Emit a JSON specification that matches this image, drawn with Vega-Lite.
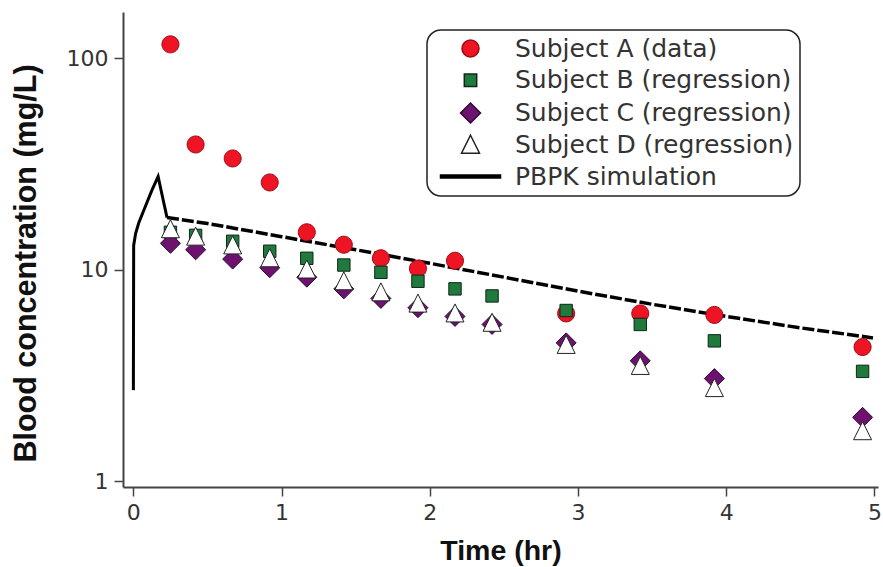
{
  "$schema": "https://vega.github.io/schema/vega-lite/v6.json",
  "width": 755,
  "height": 475,
  "autosize": "none",
  "padding": {"left": 123, "top": 12, "right": 5, "bottom": 80},
  "background": "white",
  "datasets": {
    "points": [
      {"series": "Subject A (data)", "t": 0.25, "c": 116},
      {"series": "Subject A (data)", "t": 0.42, "c": 39},
      {"series": "Subject A (data)", "t": 0.67, "c": 33.5},
      {"series": "Subject A (data)", "t": 0.92, "c": 25.8},
      {"series": "Subject A (data)", "t": 1.17, "c": 15.0},
      {"series": "Subject A (data)", "t": 1.42, "c": 13.1},
      {"series": "Subject A (data)", "t": 1.67, "c": 11.3},
      {"series": "Subject A (data)", "t": 1.92, "c": 10.1},
      {"series": "Subject A (data)", "t": 2.17, "c": 11.0},
      {"series": "Subject A (data)", "t": 2.92, "c": 6.2},
      {"series": "Subject A (data)", "t": 3.42, "c": 6.2},
      {"series": "Subject A (data)", "t": 3.92, "c": 6.1},
      {"series": "Subject A (data)", "t": 4.92, "c": 4.3},
      {"series": "Subject B (regression)", "t": 0.25, "c": 15.0},
      {"series": "Subject B (regression)", "t": 0.42, "c": 14.5},
      {"series": "Subject B (regression)", "t": 0.67, "c": 13.6},
      {"series": "Subject B (regression)", "t": 0.92, "c": 12.2},
      {"series": "Subject B (regression)", "t": 1.17, "c": 11.3},
      {"series": "Subject B (regression)", "t": 1.42, "c": 10.5},
      {"series": "Subject B (regression)", "t": 1.67, "c": 9.7},
      {"series": "Subject B (regression)", "t": 1.92, "c": 8.8},
      {"series": "Subject B (regression)", "t": 2.17, "c": 8.1},
      {"series": "Subject B (regression)", "t": 2.42, "c": 7.5},
      {"series": "Subject B (regression)", "t": 2.92, "c": 6.4},
      {"series": "Subject B (regression)", "t": 3.42, "c": 5.5},
      {"series": "Subject B (regression)", "t": 3.92, "c": 4.6},
      {"series": "Subject B (regression)", "t": 4.92, "c": 3.3},
      {"series": "Subject C (regression)", "t": 0.25, "c": 13.3},
      {"series": "Subject C (regression)", "t": 0.42, "c": 12.4},
      {"series": "Subject C (regression)", "t": 0.67, "c": 11.2},
      {"series": "Subject C (regression)", "t": 0.92, "c": 10.2},
      {"series": "Subject C (regression)", "t": 1.17, "c": 9.2},
      {"series": "Subject C (regression)", "t": 1.42, "c": 8.1},
      {"series": "Subject C (regression)", "t": 1.67, "c": 7.3},
      {"series": "Subject C (regression)", "t": 1.92, "c": 6.6},
      {"series": "Subject C (regression)", "t": 2.17, "c": 6.0},
      {"series": "Subject C (regression)", "t": 2.42, "c": 5.5},
      {"series": "Subject C (regression)", "t": 2.92, "c": 4.5},
      {"series": "Subject C (regression)", "t": 3.42, "c": 3.7},
      {"series": "Subject C (regression)", "t": 3.92, "c": 3.05},
      {"series": "Subject C (regression)", "t": 4.92, "c": 2.0},
      {"series": "Subject D (regression)", "t": 0.25, "c": 15.5},
      {"series": "Subject D (regression)", "t": 0.42, "c": 14.3},
      {"series": "Subject D (regression)", "t": 0.67, "c": 13.0},
      {"series": "Subject D (regression)", "t": 0.92, "c": 11.3},
      {"series": "Subject D (regression)", "t": 1.17, "c": 10.0},
      {"series": "Subject D (regression)", "t": 1.42, "c": 8.8},
      {"series": "Subject D (regression)", "t": 1.67, "c": 7.8},
      {"series": "Subject D (regression)", "t": 1.92, "c": 6.9},
      {"series": "Subject D (regression)", "t": 2.17, "c": 6.2},
      {"series": "Subject D (regression)", "t": 2.42, "c": 5.6},
      {"series": "Subject D (regression)", "t": 2.92, "c": 4.4},
      {"series": "Subject D (regression)", "t": 3.42, "c": 3.5},
      {"series": "Subject D (regression)", "t": 3.92, "c": 2.75},
      {"series": "Subject D (regression)", "t": 4.92, "c": 1.72}
    ],
    "pbpk": [
      {"phase": "rise", "t": 0.0, "c": 2.69},
      {"phase": "rise", "t": 0.002, "c": 13.0},
      {"phase": "rise", "t": 0.015, "c": 14.8},
      {"phase": "rise", "t": 0.036, "c": 16.6},
      {"phase": "rise", "t": 0.08, "c": 19.8},
      {"phase": "rise", "t": 0.126, "c": 23.8},
      {"phase": "rise", "t": 0.167, "c": 27.5},
      {"phase": "rise", "t": 0.2, "c": 21.5},
      {"phase": "rise", "t": 0.227, "c": 17.6},
      {"phase": "decay", "t": 0.227, "c": 17.6},
      {"phase": "decay", "t": 0.5, "c": 16.5},
      {"phase": "decay", "t": 1.0, "c": 14.3},
      {"phase": "decay", "t": 1.5, "c": 12.4},
      {"phase": "decay", "t": 2.0, "c": 10.7},
      {"phase": "decay", "t": 2.5, "c": 9.2},
      {"phase": "decay", "t": 3.0, "c": 7.9},
      {"phase": "decay", "t": 3.5, "c": 6.85},
      {"phase": "decay", "t": 4.0, "c": 6.0},
      {"phase": "decay", "t": 4.5, "c": 5.3},
      {"phase": "decay", "t": 4.99, "c": 4.75}
    ]
  },
  "encoding": {
    "x": {
      "field": "t", "type": "quantitative",
      "scale": {"domain": [-0.07, 5.024], "nice": false, "zero": false},
      "axis": {"title": "Time (hr)", "values": [0, 1, 2, 3, 4, 5], "format": "d"}
    },
    "y": {
      "field": "c", "type": "quantitative",
      "scale": {"type": "log", "domain": [0.937, 165], "nice": false},
      "axis": {"title": "Blood concentration (mg/L)", "values": [1, 10, 100], "format": "d", "titleX": -82, "titleY": 251, "titleBaseline": "bottom", "titleAngle": -90, "titleAlign": "center"}
    }
  },
  "layer": [
    {
      "data": {"name": "pbpk"},
      "transform": [{"filter": "datum.phase === 'rise'"}],
      "mark": {"type": "line", "color": "black", "strokeWidth": 3, "strokeJoin": "miter"}
    },
    {
      "data": {"name": "pbpk"},
      "transform": [{"filter": "datum.phase === 'decay'"}],
      "mark": {"type": "line", "color": "black", "strokeWidth": 3.5, "strokeDash": [12, 3]}
    },
    {
      "data": {"name": "points"},
      "mark": {"type": "point", "filled": true, "opacity": 1, "size": 400, "strokeWidth": 1},
      "encoding": {
        "shape": {
          "field": "series", "type": "nominal",
          "scale": {
            "domain": ["Subject A (data)", "Subject B (regression)", "Subject C (regression)", "Subject D (regression)", "PBPK simulation"],
            "range": [
              "M-0.85,0A0.85,0.85 0 1,0 0.85,0A0.85,0.85 0 1,0 -0.85,0Z",
              "M-0.62,-0.62H0.62V0.62H-0.62Z",
              "M0,-1L1,0L0,1L-1,0Z",
              "M0,-0.95L0.9,0.85L-0.9,0.85Z",
              "M-3,-0.15H3V0.15H-3Z"
            ]
          },
          "legend": {
            "title": null,
            "orient": "none",
            "legendX": 304,
            "legendY": 18,
            "symbolSize": 400,
            "symbolOffset": 25,
            "labelOffset": 32,
            "labelLimit": 600,
            "labelExpr": "datum.label + '\u00a0\u00a0'",
            "padding": 6,
            "rowPadding": 5.75
          }
        },
        "fill": {
          "field": "series", "type": "nominal",
          "scale": {
            "domain": ["Subject A (data)", "Subject B (regression)", "Subject C (regression)", "Subject D (regression)", "PBPK simulation"],
            "range": ["#ee1424", "#1f7a3c", "#6e1270", "#ffffff", "#000000"]
          }
        },
        "stroke": {
          "field": "series", "type": "nominal",
          "scale": {
            "domain": ["Subject A (data)", "Subject B (regression)", "Subject C (regression)", "Subject D (regression)", "PBPK simulation"],
            "range": ["#9a0a14", "#10251a", "#2e0a30", "#222222", "#000000"]
          }
        }
      }
    }
  ],
  "config": {
    "view": {"stroke": null},
    "axis": {
      "grid": false,
      "domainColor": "#444444",
      "domainWidth": 2,
      "tickColor": "#444444",
      "tickWidth": 1.5,
      "tickSize": 9,
      "labelFont": "DejaVu Sans",
      "labelFontSize": 22,
      "labelColor": "#333333",
      "labelPadding": 6,
      "titleFont": "Liberation Sans",
      "titleFontWeight": "bold",
      "titleColor": "#111111"
    },
    "axisX": {"titleFontSize": 28.5, "titlePadding": 13},
    "axisY": {"titleFontSize": 30.5},
    "legend": {
      "labelFont": "DejaVu Sans",
      "labelFontSize": 25,
      "labelColor": "#333333",
      "strokeColor": "#222222",
      "strokeWidth": 1.5,
      "cornerRadius": 14,
      "fillColor": "white"
    }
  }
}
